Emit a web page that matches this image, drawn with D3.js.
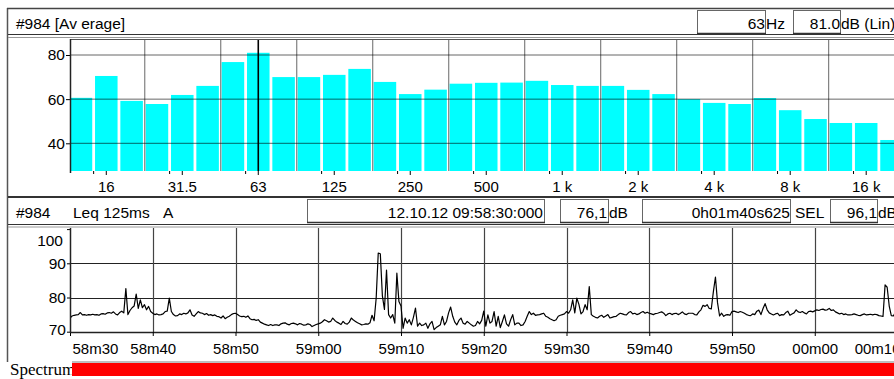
<!DOCTYPE html>
<html>
<head>
<meta charset="utf-8">
<script src="https://cdn.jsdelivr.net/npm/d3@7"></script>
<style>
body{margin:0;background:#fff;}
svg{display:block;font-family:'Liberation Sans',Arial,sans-serif;}
</style>
</head>
<body>
<div id="chart"></div>
<script>
// third octave spectrum (average)
const bands=['12.5','16','20','25','31.5','40','50','63','80','100','125','160','200','250','315','400','500','630','800','1 k','1.25 k','1.6 k','2 k','2.5 k','3.15 k','4 k','5 k','6.3 k','8 k','10 k','12.5 k','16 k','20 k'];
const bandLevels=[60.6,70.5,59.2,57.8,61.9,66.0,76.8,81.0,70.0,70.0,71.0,73.7,67.8,62.3,64.3,67.0,67.4,67.5,68.3,66.4,66.0,66.0,64.2,62.3,60.0,58.3,57.8,60.5,55.0,51.0,49.2,49.2,41.5];
const bandTicks=['16','31.5','63','125','250','500','1 k','2 k','4 k','8 k','16 k'];
const levelTicks=[40,60,80];
const cursorBand='63';

// Leq 125ms A, one value every 0.25 s from 58m30
const leqStep=0.25;
const leqValues=[
74.0,74.6,74.8,74.9, 75.0,75.6,74.9,75.0, 74.8,75.0,74.9,75.1, 74.9,75.0,74.8,75.2, 75.3,75.1,75.5,75.6,
75.4,75.8,75.2,74.9, 75.6,76.0,75.5,82.6, 75.0,76.2,77.0,77.5, 81.0,76.8,79.3,77.0, 77.9,76.4,77.4,75.9,
75.4,75.0,75.2,74.9, 75.0,75.2,75.9,76.0, 79.8,75.9,75.0,74.6, 74.7,75.2,75.0,75.4, 75.2,75.5,76.4,74.9,
74.5,75.2,75.9,75.5, 75.4,75.0,75.3,74.8, 75.0,74.7,74.9,74.5, 74.4,74.0,74.6,73.8, 74.2,74.5,75.0,75.3,
75.4,75.0,74.6,74.4, 74.5,74.2,74.6,73.8, 73.5,73.6,73.3,73.5, 72.8,72.5,72.2,72.0, 71.8,72.1,71.8,72.0,
72.0,71.8,72.3,72.5, 72.6,72.2,72.0,72.4, 72.5,72.3,72.0,72.4, 72.2,71.9,72.0,72.3, 72.1,71.5,71.8,72.1,
72.3,72.5,72.9,73.5, 73.2,72.8,73.0,74.0, 73.3,72.8,72.5,72.1, 73.0,72.4,72.2,72.8, 74.0,73.4,73.0,72.6,
72.3,72.0,72.1,72.3, 72.2,72.6,74.8,73.2, 79.8,93.0,92.8,80.5, 76.5,88.0,75.0,74.0, 75.0,72.5,87.1,78.8,
77.5,71.0,74.0,72.5, 73.5,72.0,74.2,76.9, 71.6,72.5,71.8,72.0, 72.5,71.0,72.3,73.0, 70.6,71.2,71.6,72.0,
74.5,72.0,73.0,75.5, 77.2,74.5,72.8,72.0, 73.3,74.0,72.5,72.2, 73.0,72.5,72.0,71.6, 71.8,73.0,72.3,73.3,
76.0,71.6,74.9,72.5, 73.0,75.9,71.6,74.5, 71.2,73.0,74.9,72.3, 71.6,73.5,75.0,72.0, 72.5,72.5,71.8,72.0,
73.0,74.5,75.9,75.0, 75.4,74.8,74.9,75.0, 75.2,75.4,74.5,74.2, 73.8,73.5,73.2,73.5, 74.5,74.8,75.0,75.2,
75.9,75.4,76.4,79.3, 75.5,79.8,78.0,75.2, 75.9,77.9,76.4,83.2, 75.0,74.5,74.2,74.0, 74.5,74.8,74.2,74.6,
75.0,74.0,74.2,74.4, 74.5,75.0,75.4,75.2, 75.0,74.9,75.6,75.9, 75.2,75.4,75.0,75.2, 75.6,75.9,75.4,75.7,
75.4,75.2,75.0,75.3, 75.4,75.6,75.8,75.4, 74.7,75.2,75.4,75.0, 75.3,75.4,75.0,75.3, 75.8,75.2,75.0,75.4,
75.4,75.4,75.0,74.9, 75.8,76.4,77.7,77.4, 77.9,76.8,76.7,81.7, 86.0,78.5,74.6,75.4, 74.5,74.9,75.0,74.8,
75.9,76.0,75.8,75.6, 75.9,75.7,75.4,75.0, 74.8,74.7,75.2,75.0, 76.0,76.3,75.0,76.8, 78.2,76.4,75.5,75.2,
74.9,75.2,75.4,74.7, 75.0,74.9,75.6,76.0, 74.8,75.2,75.5,76.4, 75.8,75.6,75.9,75.5, 75.2,75.9,76.0,75.8,
76.1,76.4,76.2,76.5, 76.6,76.3,76.4,76.8, 76.2,76.4,75.8,75.5, 75.2,75.4,75.0,75.2, 74.9,74.9,75.0,75.2,
75.0,74.8,74.7,75.0, 75.2,74.9,75.0,75.1, 74.9,75.1,75.0,74.7, 74.6,74.5,83.7,83.0, 77.5,74.7,74.6,75.7,
75.5,75.2,75.0
];
const timeTicks=[0,10,20,30,40,50,60,70,80,90,100];
const timeLabels=['58m30','58m40','58m50','59m00','59m10','59m20','59m30','59m40','59m50','00m00','00m10'];
const dbTicks=[70,80,90,100];

const width=894;
const height=379;

const svg=d3.select('#chart')
.append('svg')
.attr('width',width)
.attr('height',height);

const defs=svg.append('defs');
defs.append('clipPath').attr('id','clipTop')
    .append('rect').attr('x',70).attr('y',39).attr('width',824).attr('height',132);
defs.append('clipPath').attr('id','clipBot')
    .append('rect').attr('x',70).attr('y',228).attr('width',824).attr('height',104);

// outer frame
svg.append('line').attr('x1',7.5).attr('x2',7.5).attr('y1',8).attr('y2',362)
    .attr('stroke','#555').attr('stroke-width',1.5);
svg.append('line').attr('x1',7).attr('x2',894).attr('y1',8.5).attr('y2',8.5)
    .attr('stroke','#444').attr('stroke-width',1.5);

// ---------- top header ----------
svg.append('line').attr('x1',8).attr('x2',894).attr('y1',34.5).attr('y2',34.5).attr('stroke','#333');
svg.append('line').attr('x1',8).attr('x2',894).attr('y1',37.5).attr('y2',37.5).attr('stroke','#999');

function box(x0,x1,y0,y1){
    svg.append('rect').attr('x',x0+0.5).attr('y',y0+0.5).attr('width',x1-x0).attr('height',y1-y0)
        .attr('fill','none').attr('stroke','#666');
    svg.append('line').attr('x1',x0).attr('x2',x1+1).attr('y1',y1+0.5).attr('y2',y1+0.5)
        .attr('stroke','#333').attr('stroke-width',1.5);
}
function label(txt,xp,yp,anchor){
    svg.append('text').attr('x',xp).attr('y',yp).attr('text-anchor',anchor||'start')
        .attr('font-size','15.5px').attr('fill','#000').text(txt);
}

box(697,765,10,33);
box(793,840,10,33);
label('#984 [Av erage]',16,29);
label(cursorBand,765,29,'end');
label('Hz',766,29);
label(bandLevels[bands.indexOf(cursorBand)].toFixed(1),840,29,'end');
label('dB (Lin)',841,29);

// ---------- spectrum bars ----------
const x=d3.scaleBand()
.domain(bands)
.range([68.3,68.3+bands.length*25.33]);

const y=d3.scaleLinear()
.domain([40,80])
.range([143.3,55]);

const plotBottom=171;

svg.append('g')
    .attr('clip-path','url(#clipTop)')
    .attr('fill','#00ffff')
    .selectAll('rect')
    .data(bands.map((b,i)=>({band:b,level:bandLevels[i]})))
    .join('rect')
        .attr('x',d=>x(d.band)+1.4)
        .attr('y',d=>y(d.level))
        .attr('width',x.bandwidth()-2.8)
        .attr('height',d=>plotBottom-y(d.level));

// grid over bars
const gTop=svg.append('g').attr('clip-path','url(#clipTop)');
gTop.selectAll('line.h')
    .data(levelTicks)
    .join('line')
        .attr('x1',70).attr('x2',894)
        .attr('y1',d=>y(d)).attr('y2',d=>y(d))
        .attr('stroke','#000').attr('stroke-opacity',0.6);
gTop.selectAll('line.v')
    .data(bands.filter((b,i)=>i>0&&i%3===0))
    .join('line')
        .attr('x1',d=>x(d)+0.5).attr('x2',d=>x(d)+0.5)
        .attr('y1',39).attr('y2',plotBottom)
        .attr('stroke','#000').attr('stroke-opacity',0.6);
gTop.append('line')
    .attr('x1',x(cursorBand)+x.bandwidth()/2).attr('x2',x(cursorBand)+x.bandwidth()/2)
    .attr('y1',39).attr('y2',plotBottom)
    .attr('stroke','#000').attr('stroke-width',1.6);
gTop.append('line').attr('x1',70).attr('x2',894).attr('y1',39.5).attr('y2',39.5).attr('stroke','#555');

// left edge ticks of labelled bands
svg.append('g').selectAll('line')
    .data(bandTicks)
    .join('line')
        .attr('x1',d=>x(d)).attr('x2',d=>x(d))
        .attr('y1',plotBottom).attr('y2',plotBottom+3)
        .attr('stroke','#000');

svg.append('g')
    .attr('transform',`translate(0,${plotBottom})`)
    .call(d3.axisBottom(x).tickValues(bandTicks).tickSize(4).tickPadding(6))
    .call(g=>g.select('.domain').remove())
    .attr('font-size','15px')
    .attr('font-family',null);

svg.append('g')
    .attr('transform','translate(70,0)')
    .call(d3.axisLeft(y).tickValues(levelTicks).tickSize(4).tickPadding(1))
    .call(g=>g.select('.domain').remove())
    .attr('font-size','15.5px')
    .attr('font-family',null);
svg.append('line').attr('x1',70.5).attr('x2',70.5).attr('y1',39).attr('y2',plotBottom+2)
    .attr('stroke','#222').attr('stroke-width',1.5);

// ---------- middle header ----------
svg.append('line').attr('x1',8).attr('x2',894).attr('y1',197).attr('y2',197)
    .attr('stroke','#333').attr('stroke-width',2);
svg.append('line').attr('x1',8).attr('x2',894).attr('y1',224.5).attr('y2',224.5).attr('stroke','#333');
svg.append('line').attr('x1',8).attr('x2',894).attr('y1',227).attr('y2',227).attr('stroke','#999');

box(307,544,199,222);
box(560,608,199,222);
box(642,790,199,222);
box(830,877,199,222);
label('#984',16,218);
label('Leq 125ms',73,218);
label('A',163,218);
label('12.10.12 09:58:30:000',543,218,'end');
label('76,1',607,218,'end');
label('dB',609,218);
label('0h01m40s625',790,218,'end');
label('SEL',795,218);
label('96,1',877,218,'end');
label('dB',878,218);

// ---------- Leq time history ----------
const t=d3.scaleLinear()
.domain([0,100])
.range([70,897.5]);

const yl=d3.scaleLinear()
.domain([70,100])
.range([331.7,229.1]);

const gBot=svg.append('g').attr('clip-path','url(#clipBot)');
gBot.selectAll('line.h')
    .data([80,90])
    .join('line')
        .attr('x1',70).attr('x2',894)
        .attr('y1',d=>Math.round(yl(d))+0.5).attr('y2',d=>Math.round(yl(d))+0.5)
        .attr('stroke','#222');
gBot.selectAll('line.v')
    .data(timeTicks.slice(1))
    .join('line')
        .attr('x1',d=>Math.round(t(d))+0.5).attr('x2',d=>Math.round(t(d))+0.5)
        .attr('y1',228).attr('y2',332)
        .attr('stroke','#444').attr('stroke-width',1.2);

gBot.append('path')
    .datum(leqValues)
    .attr('fill','none')
    .attr('stroke','#000')
    .attr('stroke-width',1.2)
    .attr('stroke-linejoin','round')
    .attr('d',d3.line().x((d,i)=>t(i*leqStep)).y(d=>yl(d)));

const xAxis=svg.append('g')
    .attr('transform','translate(0,332)')
    .call(d3.axisBottom(t).tickValues(timeTicks).tickFormat((d,i)=>timeLabels[i]).tickSize(4).tickPadding(7.5))
    .attr('font-size','15px')
    .attr('font-family',null);
xAxis.select('.domain').attr('d','M70,0.5H894').attr('stroke','#222').attr('stroke-width',1.5);
xAxis.selectAll('.tick text')
    .attr('text-anchor',d=>d===0?'start':(d===100?'end':'middle'))
    .attr('x',d=>d===0?2:(d===100?2.5:0));

const yAxis=svg.append('g')
    .attr('transform','translate(70,0)')
    .call(d3.axisLeft(yl).tickValues(dbTicks).tickSize(3).tickPadding(1))
    .call(g=>g.select('.domain').remove())
    .attr('font-size','15.5px')
    .attr('font-family',null);
yAxis.selectAll('.tick text')
    .attr('dy',d=>d===100?'1.05em':(d===70?'0.15em':'0.32em'))
    .attr('x',d=>d===100?-7:-4);
svg.append('line').attr('x1',70.5).attr('x2',70.5).attr('y1',228).attr('y2',333)
    .attr('stroke','#222').attr('stroke-width',1.5);

// ---------- spectrum bar ----------
svg.append('text')
    .attr('x',10).attr('y',375)
    .attr('font-family','"Liberation Serif","Times New Roman",serif')
    .attr('font-size','17px')
    .text('Spectrum');
svg.append('line').attr('x1',72).attr('x2',894).attr('y1',362).attr('y2',362).attr('stroke','#aaa').attr('stroke-width',1.5);
svg.append('rect')
    .attr('x',72).attr('y',363)
    .attr('width',822).attr('height',13)
    .attr('fill','#ff0000');
</script>
</body>
</html>
